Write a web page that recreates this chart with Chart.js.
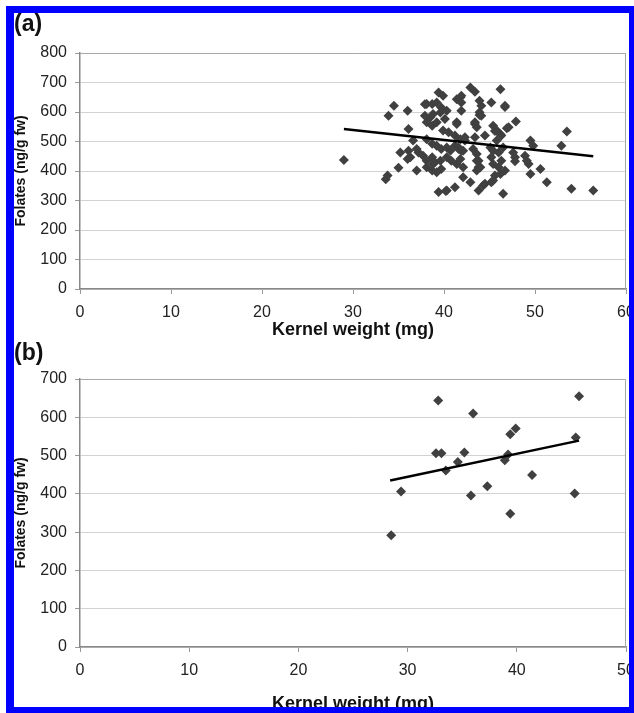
<!DOCTYPE html>
<html>
<head>
<meta charset="utf-8">
<title>Folates vs kernel weight</title>
<script src="https://cdn.jsdelivr.net/npm/chart.js@4.4.1/dist/chart.umd.min.js"></script>
<style>
  html, body { margin: 0; padding: 0; background: #fff; }
  #frame { position: absolute; left: 6px; top: 6px; width: 628px; height: 707px; background: #0000ff; }
  #inner { position: absolute; left: 8px; top: 7px; width: 615px; height: 694px; background: #fff; overflow: hidden; }
  .panel { position: absolute; left: 0; }
  .tag { position: absolute; left: 0; font: bold 23px "Liberation Sans", Arial, sans-serif; line-height: 23px; color: #111; }
</style>
</head>
<body>
<div id="frame">
  <div id="inner">
    <canvas id="chart-a" class="panel" width="640" height="332" style="top:0px"></canvas>
    <canvas id="chart-b" class="panel" width="640" height="376" style="top:330px"></canvas>
    <div class="tag" style="top:-1px">(a)</div>
    <div class="tag" style="top:328px">(b)</div>
  </div>
</div>
<script>
// (a) kernel weight (mg) and folates (ng/g fw)
const weightsA = [
  29.0, 33.6, 33.8, 33.9, 34.5, 35.0, 35.2, 36.0, 36.1, 36.0, 36.1, 36.3, 36.6,
  37.0, 37.0, 37.2, 37.7, 37.9, 37.9, 38.1, 38.1, 38.1, 38.1, 38.1,
  38.5, 38.7, 38.7, 38.7, 38.7, 38.7, 38.8, 38.8,
  39.0, 39.2, 39.2, 39.2, 39.2, 39.4, 39.4, 39.6, 39.6, 39.7, 39.7, 39.7,
  39.9, 39.9, 40.1, 40.2, 40.3, 40.3, 40.3, 40.3, 40.5, 40.7, 40.8,
  41.2, 41.2, 41.2, 41.4, 41.4, 41.4, 41.4, 41.6, 41.6, 41.8, 41.8, 41.8,
  41.9, 41.9, 41.9, 41.9, 42.1, 42.1, 42.1, 42.3, 42.3,
  42.9, 42.9, 43.2, 43.4, 43.4, 43.4, 43.4, 43.6, 43.6, 43.6, 43.6,
  43.8, 43.8, 43.8, 43.9, 43.9, 43.9, 44.0, 44.1, 44.1, 44.3, 44.5, 44.5,
  45.1, 45.2, 45.2, 45.2, 45.4, 45.4, 45.4, 45.4, 45.6, 45.6,
  45.8, 45.8, 46.0, 46.0, 46.2, 46.2, 46.2, 46.3, 46.3, 46.5, 46.5,
  46.7, 46.7, 46.7, 46.9, 47.1, 47.6, 47.8, 47.8, 47.9,
  48.9, 49.1, 49.3, 49.5, 49.5, 49.8, 50.6, 51.3, 52.9, 53.5, 54.0, 56.4
];
const folatesA = [
  437, 372, 385, 587, 621, 411, 463, 604, 542, 441, 469, 447, 503,
  475, 402, 463, 452, 587, 626, 627, 565, 508, 435, 413,
  582, 627, 553, 492, 447, 402, 593, 424,
  430, 632, 565, 486, 396, 666, 329, 598, 435, 615, 475, 407,
  655, 537, 576, 332, 604, 480, 447, 334, 531, 469, 435,
  520, 486, 345, 643, 565, 424, 559, 475, 480, 508, 441, 649,
  655, 604, 632, 469, 469, 413, 379, 514, 503,
  683, 362, 475, 669, 565, 514, 559, 548, 458, 435, 402,
  435, 334, 413, 638, 599, 590, 413, 621, 587, 351, 520, 357,
  480, 632, 447, 362, 553, 469, 424, 368, 385, 536,
  537, 503, 463, 413, 677, 525, 390, 435, 520, 480, 323,
  621, 402, 617, 545, 548, 463, 447, 433, 568,
  452, 435, 424, 503, 390, 486, 407, 362, 486, 534, 340, 334
];
const trendXA = [29.0, 56.4];
const trendYA = [542, 450];

// (b) kernel weight (mg) and folates (ng/g fw)
const weightsB = [28.5, 29.4, 32.6, 32.8, 33.1, 33.5, 34.6, 35.2, 35.8, 36.0,
  37.3, 38.9, 39.2, 39.4, 39.4, 39.9, 41.4, 45.3, 45.4, 45.7];
const folatesB = [292, 406, 506, 644, 506, 461, 483, 508, 396, 610,
  420, 488, 503, 348, 556, 571, 449, 401, 547, 655];
const trendXB = [28.4, 45.7];
const trendYB = [435, 539];

const FONT = "'Liberation Sans', Arial, sans-serif";

// gray frame round the plot area (top and right edges)
const plotBox = {
  id: "plotBox",
  afterDraw(chart) {
    const { ctx, chartArea: a } = chart;
    ctx.save();
    ctx.strokeStyle = "#a8a8a8";
    ctx.lineWidth = 1;
    ctx.beginPath();
    ctx.moveTo(a.left, a.top + 0.5);
    ctx.lineTo(a.right - 0.5, a.top + 0.5);
    ctx.lineTo(a.right - 0.5, a.bottom);
    ctx.stroke();
    ctx.restore();
  },
};

const makeChart = (canvas, xs, ys, tx, ty, xMax, yMax, padTop, xHeight) => {
  const points = xs.map((x, i) => ({ x: x, y: ys[i] }));
  const trend = tx.map((x, i) => ({ x: x, y: ty[i] }));

  return new Chart(canvas, {
    type: "scatter",
    data: {
      datasets: [
        {
          data: trend,
          showLine: true,
          pointRadius: 0,
          borderColor: "#000",
          borderWidth: 2.5,
          order: 0,
        },
        {
          data: points,
          pointStyle: "rectRot",
          pointRadius: 5,
          backgroundColor: "#404040",
          borderWidth: 0,
          order: 1,
        },
      ],
    },
    options: {
      responsive: false,
      animation: false,
      events: [],
      layout: { padding: { left: 0, top: padTop, right: 640 - 66 - 546, bottom: 0 } },
      plugins: { legend: { display: false }, tooltip: { enabled: false } },
      scales: {
        x: {
          type: "linear",
          min: 0,
          max: xMax,
          afterFit: (s) => { s.height = xHeight; },
          ticks: { stepSize: 10, padding: 9, color: "#222", font: { family: FONT, size: 16 } },
          grid: { drawOnChartArea: false, tickLength: 5, tickColor: "#999" },
          border: { color: "#888", width: 1.5 },
          title: {
            display: true,
            text: "Kernel weight (mg)",
            color: "#111",
            font: { family: FONT, size: 18, weight: "bold" },
          },
        },
        y: {
          min: 0,
          max: yMax,
          afterFit: (s) => { s.width = 66; },
          ticks: { stepSize: 100, padding: 8, color: "#222", font: { family: FONT, size: 16 } },
          grid: { color: "#d2d2d2", tickLength: 5, tickColor: "#999" },
          border: { color: "#888", width: 1.5 },
          title: {
            display: true,
            text: "Folates (ng/g fw)",
            color: "#111",
            padding: 0,
            font: { family: FONT, size: 14, weight: "bold", lineHeight: 1 },
          },
        },
      },
    },
    plugins: [plotBox],
  });
};

document.addEventListener("DOMContentLoaded", () => {
  makeChart(document.getElementById("chart-a"), weightsA, folatesA, trendXA, trendYA, 60, 800, 40, 56);
  makeChart(document.getElementById("chart-b"), weightsB, folatesB, trendXB, trendYB, 50, 700, 36, 72);
});
</script>
</body>
</html>
